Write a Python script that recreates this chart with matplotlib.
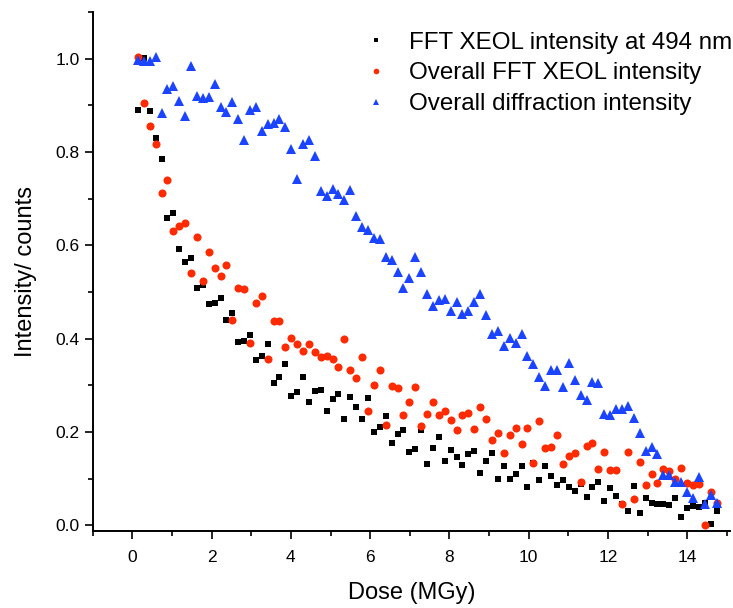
import matplotlib
matplotlib.use("Agg")
import matplotlib.pyplot as plt
from matplotlib.ticker import MultipleLocator

plt.rcParams['font.family'] = ['Liberation Sans', 'DejaVu Sans']

dose = [0.14, 0.29, 0.44, 0.59, 0.74, 0.88, 1.03, 1.18, 1.33, 1.48,
        1.63, 1.78, 1.93, 2.08, 2.23, 2.37, 2.52, 2.67, 2.82, 2.97,
        3.12, 3.27, 3.42, 3.57, 3.71, 3.86, 4.01, 4.16, 4.31, 4.46,
        4.61, 4.76, 4.91, 5.06, 5.20, 5.35, 5.50, 5.65, 5.80, 5.95,
        6.10, 6.25, 6.40, 6.55, 6.70, 6.84, 6.99, 7.14, 7.29, 7.44,
        7.59, 7.74, 7.89, 8.04, 8.19, 8.33, 8.48, 8.63, 8.78, 8.93,
        9.08, 9.23, 9.38, 9.53, 9.68, 9.82, 9.97, 10.12, 10.27, 10.42,
        10.57, 10.72, 10.87, 11.02, 11.17, 11.31, 11.46, 11.61, 11.76, 11.91,
        12.06, 12.21, 12.36, 12.51, 12.66, 12.80, 12.95, 13.10, 13.25, 13.40,
        13.55, 13.70, 13.85, 14.00, 14.15, 14.29, 14.44, 14.59, 14.74]

xeol_494 = [0.890, 1.002, 0.888, 0.829, 0.786, 0.658, 0.670, 0.592, 0.564, 0.572,
            0.508, 0.515, 0.475, 0.476, 0.487, 0.441, 0.456, 0.393, 0.396, 0.407,
            0.354, 0.362, 0.389, 0.306, 0.317, 0.346, 0.277, 0.286, 0.319, 0.264,
            0.288, 0.290, 0.246, 0.271, 0.281, 0.229, 0.275, 0.254, 0.228, 0.274,
            0.201, 0.211, 0.234, 0.177, 0.196, 0.204, 0.157, 0.164, 0.204, 0.131,
            0.166, 0.189, 0.138, 0.161, 0.146, 0.129, 0.154, 0.160, 0.112, 0.139,
            0.156, 0.099, 0.127, 0.099, 0.111, 0.127, 0.083, 0.134, 0.097, 0.127,
            0.106, 0.086, 0.097, 0.082, 0.073, 0.088, 0.061, 0.082, 0.094,
            0.052, 0.081, 0.063, 0.045, 0.031, 0.085, 0.026, 0.059, 0.047, 0.046,
            0.046, 0.044, 0.059, 0.019, 0.038, 0.042, 0.040, 0.047, 0.002, 0.031]

xeol_overall = [1.003, 0.904, 0.856, 0.817, 0.712, 0.739, 0.631, 0.641, 0.647, 0.541,
                0.618, 0.523, 0.585, 0.552, 0.535, 0.559, 0.441, 0.508, 0.506, 0.391,
                0.477, 0.491, 0.356, 0.439, 0.439, 0.382, 0.401, 0.389, 0.373, 0.388,
                0.372, 0.360, 0.363, 0.356, 0.339, 0.400, 0.334, 0.316, 0.361, 0.246,
                0.301, 0.332, 0.215, 0.299, 0.294, 0.236, 0.265, 0.296, 0.214, 0.238,
                0.264, 0.236, 0.245, 0.226, 0.205, 0.237, 0.241, 0.206, 0.253, 0.229,
                0.184, 0.197, 0.156, 0.193, 0.208, 0.174, 0.209, 0.133, 0.224, 0.166,
                0.168, 0.193, 0.131, 0.148, 0.156, 0.093, 0.170, 0.176, 0.121,
                0.157, 0.118, 0.118, 0.045, 0.157, 0.056, 0.136, 0.086, 0.111, 0.091,
                0.121, 0.116, 0.100, 0.124, 0.091, 0.086, 0.088, 0.000, 0.072, 0.049]

diffraction = [0.998, 0.994, 0.994, 1.003, 0.884, 0.936, 0.941, 0.910, 0.878, 0.984,
               0.920, 0.916, 0.917, 0.945, 0.897, 0.886, 0.908, 0.871, 0.826, 0.891,
               0.896, 0.844, 0.859, 0.863, 0.870, 0.853, 0.806, 0.742, 0.817, 0.826,
               0.791, 0.716, 0.705, 0.720, 0.711, 0.697, 0.719, 0.662, 0.639, 0.633,
               0.616, 0.614, 0.574, 0.568, 0.543, 0.508, 0.530, 0.574, 0.543, 0.496,
               0.471, 0.483, 0.486, 0.459, 0.479, 0.452, 0.459, 0.479, 0.495, 0.450,
               0.411, 0.416, 0.384, 0.402, 0.391, 0.411, 0.363, 0.345, 0.319, 0.298,
               0.333, 0.334, 0.296, 0.348, 0.312, 0.279, 0.269, 0.308, 0.306,
               0.238, 0.236, 0.249, 0.250, 0.256, 0.231, 0.199, 0.159, 0.169, 0.154,
               0.107, 0.107, 0.093, 0.094, 0.071, 0.059, 0.104, 0.045, 0.065, 0.049]

labels = ["FFT XEOL intensity at 494 nm",
          "Overall FFT XEOL intensity",
          "Overall diffraction intensity"]

fig = plt.figure(figsize=(7.33, 6.08), dpi=100)
ax = fig.add_axes([0.1265, 0.1266, 0.9959 - 0.1265, 0.9803 - 0.1266])

ax.plot(dose, xeol_494, linestyle='none', marker='s', ms=5.0, color='black',
        markeredgewidth=0, label=labels[0])
ax.plot(dose, xeol_overall, linestyle='none', marker='o', ms=5.8, color='#FF2A00',
        markeredgewidth=0, label=labels[1])
ax.plot(dose, diffraction, linestyle='none', marker='^', ms=6.5, color='#1A44FF',
        markeredgewidth=0, label=labels[2])

ax.set_xlim(-1.0, 15.08)
ax.set_ylim(-0.012, 1.1)
ax.xaxis.set_major_locator(MultipleLocator(2))
ax.xaxis.set_minor_locator(MultipleLocator(1))
ax.yaxis.set_major_locator(MultipleLocator(0.2))
ax.yaxis.set_minor_locator(MultipleLocator(0.1))
ax.yaxis.set_major_formatter(plt.FuncFormatter(lambda v, p: f"{v:.1f}"))

for s in ['top', 'right']:
    ax.spines[s].set_visible(False)
for s in ['left', 'bottom']:
    ax.spines[s].set_linewidth(1.4)
ax.tick_params(which='major', direction='out', length=6, width=1.2, labelsize=12.5)
ax.tick_params(which='minor', direction='out', length=3.5, width=1.2)
ax.tick_params(axis='x', pad=8)

ax.set_xlabel("Dose (MGy)", fontsize=17, labelpad=12)
ax.set_ylabel("Intensity/ counts", fontsize=17, labelpad=13)

leg = ax.legend(loc='upper left', bbox_to_anchor=(0.426, 0.962), frameon=False,
                fontsize=17.4, markerscale=0.7, handletextpad=0.85,
                labelspacing=0.36, handlelength=1.0, borderaxespad=0,
                borderpad=0)

fig.savefig("out.png", dpi=100)
